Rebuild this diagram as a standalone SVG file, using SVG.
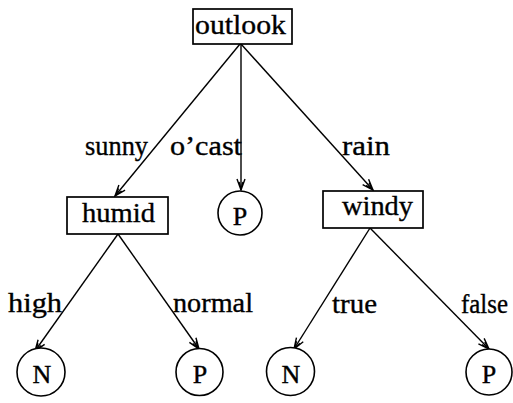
<svg xmlns="http://www.w3.org/2000/svg" width="513" height="403" viewBox="0 0 513 403">
<style>
.box{fill:#fff;stroke:#000;stroke-width:1.7}
.circ{fill:#fff;stroke:#000;stroke-width:1.6}
.t{font-family:"Liberation Serif","Times New Roman",serif;font-size:28px;fill:#000;stroke:#000;stroke-width:0.35}
.leaf{font-family:"Liberation Serif","Times New Roman",serif;font-size:26px;fill:#000;stroke:#000;stroke-width:0.4;text-anchor:middle}
.edge{stroke:#000;stroke-width:1.4;fill:none;marker-end:url(#arr)}
</style>
<defs>
<marker id="arr" markerUnits="userSpaceOnUse" markerWidth="14" markerHeight="12" viewBox="-12 -6 14 12" refX="0" refY="0" orient="auto">
<path d="M-11,-4 L0,0 L-11,4 M-8,-2 L-1,0 L-8,2" fill="none" stroke="#000" stroke-width="1.4"/>
</marker>
</defs>
<g id="connectors">
<line class="edge" x1="240" y1="44" x2="115" y2="196"/>
<line class="edge" x1="241" y1="44" x2="241" y2="190"/>
<line class="edge" x1="241" y1="44" x2="373" y2="190"/>
<line class="edge" x1="118" y1="234" x2="35" y2="351"/>
<line class="edge" x1="118" y1="234" x2="199" y2="349"/>
<line class="edge" x1="370" y1="228" x2="294" y2="349"/>
<line class="edge" x1="370" y1="228" x2="489" y2="349"/>
</g>
<g id="labels">
<text class="t" x="85" y="155" textLength="63" lengthAdjust="spacingAndGlyphs">sunny</text>
<text class="t" x="170" y="155" textLength="72" lengthAdjust="spacingAndGlyphs">o’cast</text>
<text class="t" x="342" y="155" textLength="48" lengthAdjust="spacingAndGlyphs">rain</text>
<text class="t" x="8" y="312" textLength="54" lengthAdjust="spacingAndGlyphs">high</text>
<text class="t" x="173" y="312" textLength="80" lengthAdjust="spacingAndGlyphs">normal</text>
<text class="t" x="332" y="313" textLength="45" lengthAdjust="spacingAndGlyphs">true</text>
<text class="t" x="461" y="313" textLength="47" lengthAdjust="spacingAndGlyphs">false</text>
</g>
<g id="outlook">
<rect class="box" x="193" y="9" width="99" height="35"/>
<text class="t" x="195" y="34" textLength="91" lengthAdjust="spacingAndGlyphs">outlook</text>
</g>
<g id="humid">
<rect class="box" x="67" y="197" width="101" height="37"/>
<text class="t" x="82" y="222" textLength="73" lengthAdjust="spacingAndGlyphs">humid</text>
</g>
<g id="windy">
<rect class="box" x="323" y="191" width="100" height="37"/>
<text class="t" x="342" y="215" textLength="71" lengthAdjust="spacingAndGlyphs">windy</text>
</g>
<g id="p-ocast">
<circle class="circ" cx="240" cy="213" r="22"/>
<text class="leaf" x="240" y="225">P</text>
</g>
<g id="n-high">
<circle class="circ" cx="41" cy="372" r="24"/>
<text class="leaf" x="42" y="383">N</text>
</g>
<g id="p-normal">
<circle class="circ" cx="199.5" cy="372" r="23.5"/>
<text class="leaf" x="200" y="383">P</text>
</g>
<g id="n-true">
<circle class="circ" cx="290.5" cy="371.5" r="24"/>
<text class="leaf" x="291" y="383">N</text>
</g>
<g id="p-false">
<circle class="circ" cx="489" cy="372" r="23"/>
<text class="leaf" x="489" y="383">P</text>
</g>
</svg>
